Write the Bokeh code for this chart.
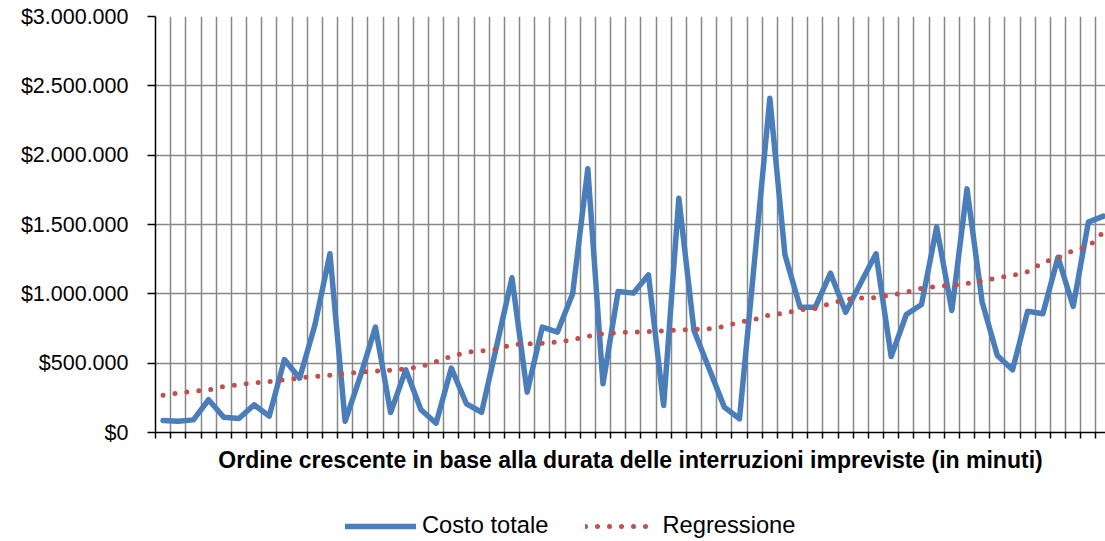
from bokeh.plotting import figure
from bokeh.layouts import column
from bokeh.models import (Range1d, FixedTicker, CustomJSTickFormatter, Legend, LegendItem,
                          ColumnDataSource)
from bokeh.embed import file_html
from bokeh.resources import INLINE

# Data
costo_totale = [87000, 81000, 91000, 236000, 110000, 101000, 200000, 118000, 526000, 392000,
                772000, 1289000, 81000, 404000, 760000, 144000, 452000, 164000, 67000, 464000,
                207000, 146000, 628000, 1116000, 291000, 760000, 724000, 1000000, 1902000, 351000,
                1017000, 1005000, 1137000, 195000, 1690000, 736000, 459000, 183000, 99000, 1250000,
                2411000, 1280000, 904000, 904000, 1149000, 868000, 1080000, 1289000, 548000, 851000,
                923000, 1481000, 880000, 1757000, 940000, 555000, 452000, 875000, 856000, 1264000,
                909000, 1517000, 1560000]
regressione = [269000, 284000, 297000, 307000, 332000, 345000, 358000, 368000, 380000, 393000,
               404000, 413000, 424000, 436000, 443000, 450000, 458000, 476000, 512000, 549000,
               579000, 588000, 599000, 634000, 638000, 644000, 653000, 669000, 694000, 712000,
               721000, 724000, 729000, 733000, 739000, 743000, 749000, 765000, 797000, 815000,
               849000, 860000, 885000, 895000, 930000, 960000, 969000, 973000, 990000, 1011000,
               1040000, 1054000, 1062000, 1075000, 1093000, 1115000, 1133000, 1160000, 1226000, 1260000,
               1312000, 1340000, 1445000]
y_ticks = [0, 500000, 1000000, 1500000, 2000000, 2500000, 3000000]
x_title = "Ordine crescente in base alla durata delle interruzioni impreviste (in minuti)"
serie_nomi = ["Costo totale", "Regressione"]

n = len(costo_totale)
source = ColumnDataSource(dict(
    x=[i + 0.5 for i in range(n)],
    costo=costo_totale,
    reg=regressione,
))
boundaries = list(range(0, n + 1))

FONT = "Liberation Sans"
BLUE = "#4A7EBB"
RED = "#C0504D"

p = figure(width=1105, height=490, output_backend="svg", toolbar_location=None,
           x_range=Range1d(0, 62.63), y_range=Range1d(0, 3000000),
           min_border_left=155, min_border_top=16, min_border_right=0, min_border_bottom=58)
p.outline_line_color = None
p.background_fill_color = "white"
p.border_fill_color = "white"

r1 = p.line("x", "costo", source=source, line_color=BLUE, line_width=5.5,
            line_join="round", line_cap="round")
r2 = p.line("x", "reg", source=source, line_color=RED, line_width=5,
            line_dash="0 12", line_cap="round")

# x axis: category boundaries drawn as (label-less) minor ticks
xa = p.xaxis[0]
xa.ticker = FixedTicker(ticks=[], minor_ticks=boundaries)
xa.major_tick_in = 0
xa.major_tick_out = 6
xa.minor_tick_in = 0
xa.minor_tick_out = 6
xa.minor_tick_line_color = "black"
xa.minor_tick_line_width = 1.5
xa.major_label_standoff = 0
xa.axis_line_color = "black"
xa.axis_line_width = 1.5
xa.axis_label = x_title
xa.axis_label_text_font = FONT
xa.axis_label_text_font_style = "bold"
xa.axis_label_text_font_size = "23px"
xa.axis_label_text_color = "black"
xa.axis_label_standoff = 8

# y axis
p.yaxis.ticker = FixedTicker(ticks=y_ticks)
p.yaxis.formatter = CustomJSTickFormatter(code=r"""
return '$' + Math.round(tick).toString().replace(/\B(?=(\d{3})+(?!\d))/g, '.');
""")
p.yaxis.major_label_text_font = FONT
p.yaxis.major_label_text_font_size = "21.5px"
p.yaxis.major_label_text_color = "black"
p.yaxis.major_label_standoff = 19
p.yaxis.major_tick_in = 0
p.yaxis.major_tick_out = 8
p.yaxis.minor_tick_line_color = None
p.yaxis.axis_line_color = "black"
p.yaxis.axis_line_width = 1.5
p.yaxis.major_tick_line_color = "black"
p.yaxis.major_tick_line_width = 1.5

# grids
p.xgrid.ticker = FixedTicker(ticks=boundaries)
p.xgrid.grid_line_color = "#878787"
p.xgrid.grid_line_width = 1.5
p.ygrid.grid_line_color = "#878787"
p.ygrid.grid_line_width = 1.5

# legend strip underneath (its frame is aligned with the chart's frame)
pl = figure(width=1105, height=51, output_backend="svg", toolbar_location=None,
            x_range=Range1d(0, 1), y_range=Range1d(0, 1),
            min_border=0, x_axis_type=None, y_axis_type=None)
pl.outline_line_color = None
pl.grid.visible = False
pl.background_fill_color = "white"
pl.border_fill_color = "white"
lr1 = pl.line("x", "costo", source=source, line_color=BLUE, line_width=5.5, line_cap="round")
lr2 = pl.line("x", "reg", source=source, line_color=RED, line_width=5,
              line_dash="0 12", line_cap="round")

legend = Legend(items=[LegendItem(label=serie_nomi[0], renderers=[lr1]),
                       LegendItem(label=serie_nomi[1], renderers=[lr2])],
                orientation="horizontal", location=(190, 2),
                padding=0, margin=0, spacing=37,
                glyph_width=71, glyph_height=20, label_height=20,
                label_standoff=6,
                label_text_font=FONT, label_text_font_size="23.7px",
                label_text_color="black",
                border_line_color=None, background_fill_alpha=0)
pl.add_layout(legend, "center")

layout = column(p, pl, spacing=0)
open("out.html", "w").write(file_html(layout, INLINE))
